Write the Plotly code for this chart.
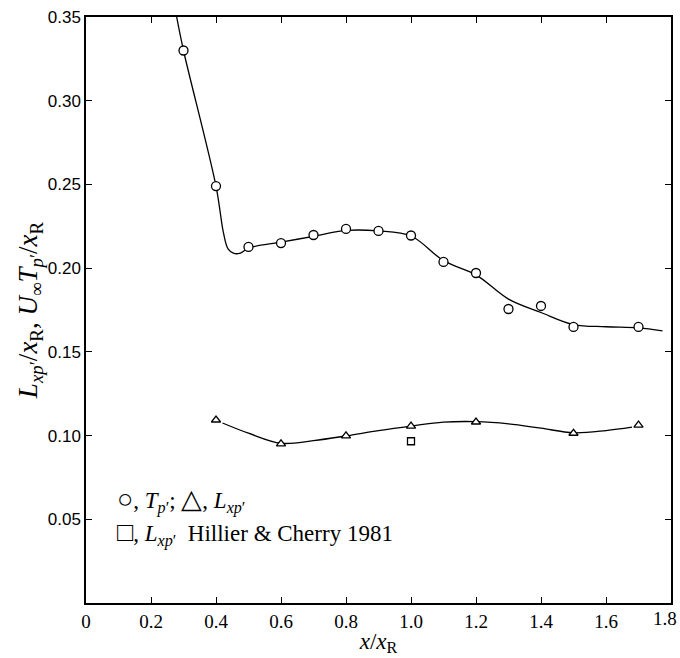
import plotly.graph_objects as go

# measured points
tp_x = [0.3, 0.4, 0.5, 0.6, 0.7, 0.8, 0.9, 1.0, 1.1, 1.2, 1.3, 1.4, 1.5, 1.7]
tp_y = [0.330, 0.249, 0.2127, 0.215, 0.2198, 0.2234, 0.2222, 0.2195, 0.2037, 0.1971, 0.1756, 0.1774, 0.1649, 0.1649]

lx_x = [0.4, 0.6, 0.8, 1.0, 1.2, 1.5, 1.7]
lx_y = [0.1093, 0.0950, 0.0998, 0.1057, 0.1081, 0.1014, 0.1062]

hc_x = [1.0]
hc_y = [0.0966]

# faired curves
tp_curve_x = [0.279, 0.30, 0.40, 0.423, 0.437, 0.455, 0.475, 0.50, 0.60, 0.70, 0.80, 0.90, 1.00, 1.10, 1.20, 1.30, 1.40, 1.50, 1.60, 1.70, 1.774]
tp_curve_y = [0.350, 0.330, 0.249, 0.221, 0.2115, 0.2088, 0.209, 0.212, 0.2155, 0.219, 0.2225, 0.2222, 0.2192, 0.2045, 0.1960, 0.1815, 0.1735, 0.1663, 0.1650, 0.1643, 0.1625]

lx_curve_x = [0.42, 0.50, 0.60, 0.70, 0.80, 0.90, 1.00, 1.10, 1.20, 1.30, 1.40, 1.50, 1.60, 1.68]
lx_curve_y = [0.1075, 0.1014, 0.0954, 0.0970, 0.0998, 0.1030, 0.1057, 0.1080, 0.1083, 0.1070, 0.1044, 0.1017, 0.1030, 0.1050]

x_ticks = [0, 0.2, 0.4, 0.6, 0.8, 1.0, 1.2, 1.4, 1.6, 1.8]
x_ticktext = ["0", "0.2", "0.4", "0.6", "0.8", "1.0", "1.2", "1.4", "1.6", "1.8"]
y_ticks = [0.05, 0.10, 0.15, 0.20, 0.25, 0.30, 0.35]
y_ticktext = ["0.05", "0.10", "0.15", "0.20", "0.25", "0.30", "0.35"]

FONT = "Liberation Serif"
SANS = "Liberation Sans"

fig = go.Figure()
fig.add_trace(go.Scatter(x=tp_curve_x, y=tp_curve_y, mode="lines",
                         line=dict(color="black", width=1.3, shape="spline", smoothing=1.0),
                         showlegend=False, hoverinfo="skip"))
fig.add_trace(go.Scatter(x=lx_curve_x, y=lx_curve_y, mode="lines",
                         line=dict(color="black", width=1.3, shape="spline", smoothing=1.0),
                         showlegend=False, hoverinfo="skip"))
fig.add_trace(go.Scatter(x=tp_x, y=tp_y, mode="markers",
                         marker=dict(symbol="circle", size=9, color="white",
                                     line=dict(color="black", width=1.3)),
                         showlegend=False))
fig.add_trace(go.Scatter(x=lx_x, y=lx_y, mode="markers",
                         marker=dict(symbol="triangle-up", size=8, color="white",
                                     line=dict(color="black", width=1.3)),
                         showlegend=False))
fig.add_trace(go.Scatter(x=hc_x, y=hc_y, mode="markers",
                         marker=dict(symbol="square", size=7, color="white",
                                     line=dict(color="black", width=1.3)),
                         showlegend=False))

SYM = '<span style="font-size:27px">{}</span>'
fig.add_annotation(x=0.09, y=0.0615, xref="x", yref="y", xanchor="left", yanchor="middle",
                   showarrow=False,
                   text=SYM.format("○") + ", <i>T</i><sub><i>p</i>′</sub>; " + SYM.format("△")
                        + ", <i>L</i><sub><i>xp</i>′</sub>",
                   font=dict(family=FONT, size=23, color="black"))
fig.add_annotation(x=0.09, y=0.0415, xref="x", yref="y", xanchor="left", yanchor="middle",
                   showarrow=False,
                   text=SYM.format("□") + ", <i>L</i><sub><i>xp</i>′</sub>  Hillier &amp; Cherry 1981",
                   font=dict(family=FONT, size=23, color="black"))

# last x tick label, shifted inside the page like the reference
fig.add_annotation(x=x_ticks[-1], y=0, xref="x", yref="y", xanchor="right", yanchor="top",
                   xshift=8, yshift=-3, showarrow=False, text=x_ticktext[-1],
                   font=dict(family=FONT, size=19, color="black"))

fig.update_layout(
    width=680, height=658,
    margin=dict(l=86, r=7, t=17, b=55),
    paper_bgcolor="white", plot_bgcolor="white",
    font=dict(family=FONT, size=19, color="black"),
    xaxis=dict(range=[0, 1.8], tickvals=x_ticks, ticktext=x_ticktext[:-1] + [""],
               tickfont=dict(family=FONT, size=19),
               showline=True, linecolor="black", linewidth=1.5, mirror="ticks",
               ticks="inside", ticklen=6, tickcolor="black", showgrid=False, zeroline=False,
               title=dict(text="<i>x</i>/<i>x</i><sub>R</sub>", standoff=2,
                          font=dict(family=FONT, size=23))),
    yaxis=dict(range=[0, 0.35], tickvals=y_ticks, ticktext=y_ticktext,
               tickfont=dict(family=SANS, size=17),
               showline=True, linecolor="black", linewidth=1.5, mirror="ticks",
               ticks="inside", ticklen=6, tickcolor="black", showgrid=False, zeroline=False,
               title=dict(text="<i>L</i><sub><i>xp</i>′</sub>/<i>x</i><sub>R</sub>, <i>U</i><sub>∞</sub><i>T</i><sub><i>p</i>′</sub>/<i>x</i><sub>R</sub>",
                          standoff=2, font=dict(family=FONT, size=27))),
)

fig.write_html("out.html")
